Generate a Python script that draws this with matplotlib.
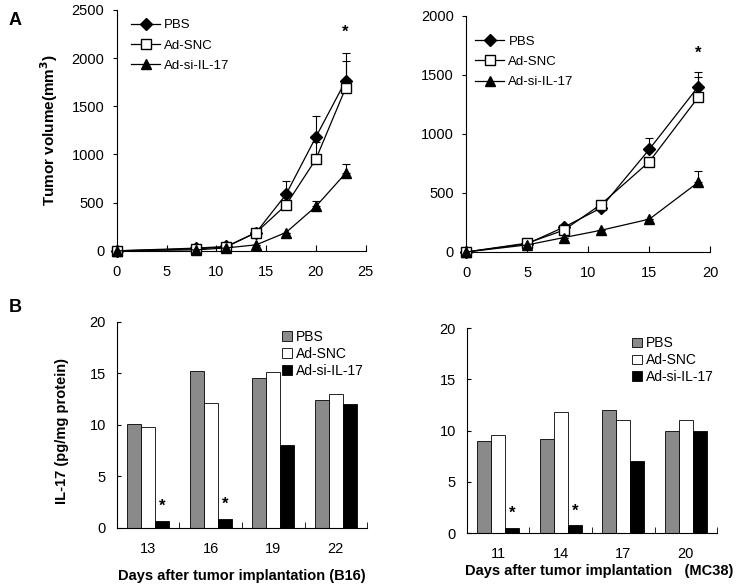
import numpy as np
import matplotlib
matplotlib.use('Agg')
import matplotlib.pyplot as plt

plt.rcParams['font.family'] = ['Liberation Sans', 'DejaVu Sans']

## Panel A data (tumor volume, mm3)
b16_days = [0, 8, 11, 14, 17, 20, 23]
b16_pbs = [0, 28, 45, 190, 585, 1180, 1765]
b16_pbs_err = [0, 0, 0, 0, 135, 215, 290]
b16_snc = [0, 20, 40, 190, 475, 950, 1690]
b16_snc_err = [0, 0, 0, 0, 0, 175, 280]
b16_si = [0, 10, 30, 62, 190, 460, 805]
b16_si_err = [0, 0, 0, 0, 0, 60, 95]

mc38_days = [0, 5, 8, 11, 15, 19]
mc38_pbs = [0, 70, 210, 370, 870, 1400]
mc38_pbs_err = [0, 0, 0, 0, 95, 128]
mc38_snc = [0, 75, 185, 400, 765, 1310]
mc38_snc_err = [0, 0, 0, 0, 0, 170]
mc38_si = [0, 60, 122, 183, 278, 590]
mc38_si_err = [0, 0, 0, 0, 0, 100]

## Panel B data (IL-17, pg/mg protein)
b16_bar_days = ['13', '16', '19', '22']
b16_bar_pbs = [10.1, 15.2, 14.5, 12.4]
b16_bar_snc = [9.8, 12.1, 15.1, 13.0]
b16_bar_si = [0.7, 0.9, 8.0, 12.0]

mc38_bar_days = ['11', '14', '17', '20']
mc38_bar_pbs = [9.0, 9.15, 12.05, 9.97]
mc38_bar_snc = [9.55, 11.8, 11.05, 11.05]
mc38_bar_si = [0.55, 0.78, 7.0, 9.97]

groups = ['PBS', 'Ad-SNC', 'Ad-si-IL-17']

fig = plt.figure(figsize=(7.4, 5.86), dpi=100)

TICK_FS = 10.5
LAB_FS = 10.5


def line_panel(ax, days, series, errs, xmax, ymax, ystep, star_y, leg_pos):
    styles = [dict(marker='D', mfc='black', ms=6.5),
              dict(marker='s', mfc='white', ms=7.5),
              dict(marker='^', mfc='black', ms=7.5)]
    for name, vals, err, st in zip(groups, series, errs, styles):
        ax.errorbar(days, vals, yerr=[np.zeros(len(err)), err], fmt='none',
                    ecolor='black', elinewidth=0.8, capsize=3, capthick=0.8,
                    clip_on=False, zorder=2)
        ax.plot(days, vals, color='black', lw=0.9, mec='black', label=name,
                clip_on=False, zorder=3, **st)
    ax.set_xlim(0, xmax)
    ax.set_ylim(0, ymax)
    ax.set_xticks(np.arange(0, xmax + 1, 5))
    ax.set_yticks(np.arange(0, ymax + 1, ystep))
    ax.text(days[-1], star_y, '*', ha='center', va='center', fontsize=12,
            fontweight='bold')
    for s in ['top', 'right']:
        ax.spines[s].set_visible(False)
    ax.tick_params(axis='x', direction='in', length=4, labelsize=TICK_FS, pad=10)
    ax.tick_params(axis='y', direction='out', length=3, labelsize=TICK_FS, pad=6)
    ax.legend(loc='upper left', frameon=False, fontsize=9.5,
              handlelength=2.2, handletextpad=0.3, borderaxespad=0.3,
              labelspacing=0.6, bbox_to_anchor=leg_pos)


def bar_panel(ax, cats, pbs, snc, si, xlabel, label_x):
    x = np.arange(len(cats))
    w = 0.225
    ax.bar(x - w, pbs, w, color='#8a8a8a', edgecolor='black', lw=0.6, label='PBS')
    ax.bar(x, snc, w, color='white', edgecolor='black', lw=0.6, label='Ad-SNC')
    ax.bar(x + w, si, w, color='black', edgecolor='black', lw=0.6,
           label='Ad-si-IL-17')
    for i in range(2):
        ax.text(x[i] + w, si[i] + 1.4, '*', ha='center', va='center',
                fontsize=12, fontweight='bold')
    ax.set_xlim(-0.5, len(cats) - 0.5)
    ax.set_ylim(0, 20)
    ax.set_yticks([0, 5, 10, 15, 20])
    ax.set_xticks(x)
    ax.set_xticklabels(cats)
    ax.set_xticks(np.arange(-0.5, len(cats)), minor=True)
    for s in ['top', 'right']:
        ax.spines[s].set_visible(False)
    ax.tick_params(axis='x', which='major', length=0, labelsize=TICK_FS, pad=10)
    ax.tick_params(axis='x', which='minor', direction='in', length=4)
    ax.tick_params(axis='y', direction='in', length=3, labelsize=TICK_FS, pad=8)
    ax.set_xlabel(xlabel, fontsize=LAB_FS, fontweight='bold')
    ax.xaxis.set_label_coords(label_x, -0.2)
    ax.legend(loc='upper right', frameon=False, fontsize=10, handlelength=0.7,
              handleheight=0.7, handletextpad=0.3, labelspacing=0.2,
              borderaxespad=0.2, bbox_to_anchor=(1.02, 1.0))


axA1 = fig.add_axes([0.158, 0.572, 0.336, 0.411])
line_panel(axA1, b16_days, [b16_pbs, b16_snc, b16_si],
           [b16_pbs_err, b16_snc_err, b16_si_err], 25, 2500, 500, 2270,
           (0.02, 1.0))
axA1.set_ylabel('Tumor volume(mm$^\\mathbf{3}$)', fontsize=11,
                fontweight='bold', labelpad=8)

axA2 = fig.add_axes([0.630, 0.570, 0.330, 0.403])
line_panel(axA2, mc38_days, [mc38_pbs, mc38_snc, mc38_si],
           [mc38_pbs_err, mc38_snc_err, mc38_si_err], 20, 2000, 500, 1680,
           (0.0, 0.955))

axB1 = fig.add_axes([0.158, 0.099, 0.338, 0.352])
bar_panel(axB1, b16_bar_days, b16_bar_pbs, b16_bar_snc, b16_bar_si,
          'Days after tumor implantation (B16)', 0.5)
axB1.set_ylabel('IL-17 (pg/mg protein)', fontsize=10.5, fontweight='bold')
axB1.yaxis.set_label_coords(-0.19, 0.47)

axB2 = fig.add_axes([0.631, 0.090, 0.338, 0.350])
bar_panel(axB2, mc38_bar_days, mc38_bar_pbs, mc38_bar_snc, mc38_bar_si,
          'Days after tumor implantation   (MC38)', 0.53)
axB2.xaxis.set_label_coords(0.53, -0.15)

fig.text(0.012, 0.958, 'A', fontsize=13, fontweight='bold')
fig.text(0.012, 0.468, 'B', fontsize=13, fontweight='bold')

fig.savefig('out.png', dpi=100)
